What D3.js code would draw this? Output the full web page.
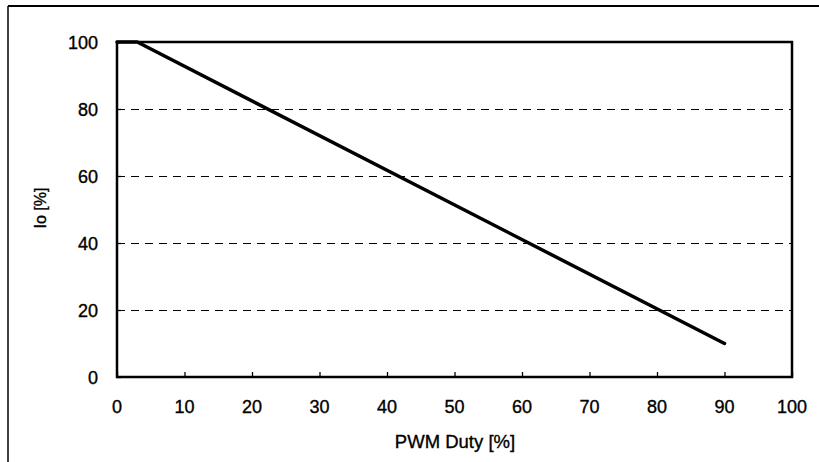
<!DOCTYPE html>
<html>
<head>
<meta charset="utf-8">
<script src="https://cdn.jsdelivr.net/npm/d3@7"></script>
<style>
	body { margin: 0; background: #fff; }
	text { font-family: "Liberation Sans", Arial, sans-serif; fill: #000; stroke: #000; stroke-width: 0.35px; }
</style>
</head>
<body>
<div id="chart"></div>
<script>
// data
const duty = [0, 3, 90];        // PWM Duty [%]
const io = [100, 100, 10];      // Io [%]
const xTicks = [0, 10, 20, 30, 40, 50, 60, 70, 80, 90, 100];
const yTicks = [0, 20, 40, 60, 80, 100];
const gridLines = [20, 40, 60, 80];

const W = 819, H = 462;
const plotLeft = 117, plotRight = 792, plotTop = 42, plotBottom = 377;

var x = d3.scaleLinear().domain([0, 100]).range([plotLeft, plotRight]);
var y = d3.scaleLinear().domain([0, 100]).range([plotBottom, plotTop]);

var svg = d3.select('#chart')
		.append('svg')
		.attr('width', W)
		.attr('height', H);

// outer frame (top and left only)
svg.append('line')
	.attr('x1', 8).attr('x2', W).attr('y1', 6).attr('y2', 6)
	.attr('stroke', '#000').attr('stroke-width', 2);
svg.append('line')
	.attr('x1', 8).attr('x2', 8).attr('y1', 6).attr('y2', H)
	.attr('stroke', '#000').attr('stroke-width', 1.5);

// dashed grid
svg.selectAll('.grid')
	.data(gridLines)
	.enter()
	.append('line')
	.attr('class', 'grid')
	.attr('x1', x(0)).attr('x2', x(100))
	.attr('y1', d => Math.round(y(d)) + 0.5).attr('y2', d => Math.round(y(d)) + 0.5)
	.attr('stroke', '#000')
	.attr('stroke-width', 1.2)
	.attr('stroke-dasharray', '8,6');

// axes with small inward ticks
var xAxis = d3.axisTop(x).tickValues(xTicks).tickSize(5).tickFormat('');
var yAxis = d3.axisRight(y).tickValues(yTicks).tickSize(4).tickFormat('');

svg.append('g')
	.attr('transform', `translate(0,${plotBottom})`)
	.call(xAxis)
	.call(g => g.select('.domain').remove())
	.selectAll('line').attr('stroke', '#000').attr('stroke-width', 1.3);
svg.append('g')
	.attr('transform', `translate(${plotLeft},0)`)
	.call(yAxis)
	.call(g => g.select('.domain').remove())
	.selectAll('line').attr('stroke', '#000').attr('stroke-width', 1.3);

// tick labels
svg.selectAll('.xlab')
	.data(xTicks)
	.enter()
	.append('text')
	.attr('class', 'xlab')
	.attr('x', d => x(d))
	.attr('y', 413)
	.attr('text-anchor', 'middle')
	.style('font-size', '18px')
	.text(d => d);

svg.selectAll('.ylab')
	.data(yTicks)
	.enter()
	.append('text')
	.attr('class', 'ylab')
	.attr('x', 98)
	.attr('y', d => y(d) + 6.5)
	.attr('text-anchor', 'end')
	.style('font-size', '18px')
	.text(d => d);

// axis titles
svg.append('text')
	.attr('x', 455)
	.attr('y', 448)
	.attr('text-anchor', 'middle')
	.style('font-size', '18.5px')
	.text('PWM Duty [%]');

svg.append('text')
	.attr('transform', `translate(46,208) rotate(-90)`)
	.attr('text-anchor', 'middle')
	.style('font-size', '16px')
	.text('Io [%]');

// plot frame
svg.append('rect')
	.attr('x', plotLeft).attr('y', plotTop)
	.attr('width', plotRight - plotLeft).attr('height', plotBottom - plotTop)
	.attr('fill', 'none')
	.attr('stroke', '#000')
	.attr('stroke-width', 2.5);

// derating line
var line = d3.line()
	.x((d, i) => x(duty[i]))
	.y(d => y(d));

svg.append('path')
	.datum(io)
	.attr('d', line)
	.attr('fill', 'none')
	.attr('stroke', '#000')
	.attr('stroke-width', 3.5)
	.attr('stroke-linejoin', 'round')
	.attr('stroke-linecap', 'round');
</script>
</body>
</html>
